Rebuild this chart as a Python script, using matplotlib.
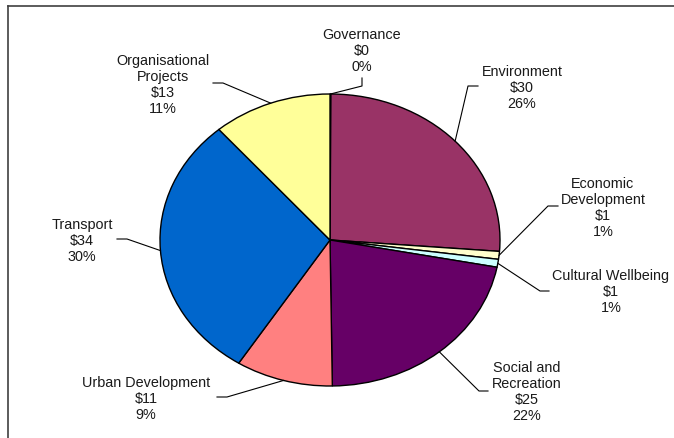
import numpy as np
import matplotlib.pyplot as plt
from matplotlib.lines import Line2D

plt.rcParams['font.family'] = ['Liberation Sans', 'DejaVu Sans']

# spending by category ($), clockwise from 12 o'clock
names = ['Governance', 'Environment', 'Economic\nDevelopment', 'Cultural Wellbeing',
         'Social and\nRecreation', 'Urban Development', 'Transport', 'Organisational\nProjects']
values = [0.1, 30.0, 1.0, 1.0, 25.0, 10.6, 34.0, 13.0]
colors = ['#9999FF', '#993366', '#FFFFCC', '#CCFFFF', '#660066', '#FF8080', '#0066CC', '#FFFF99']

W, H = 674, 439
cx, cy, rx, ry = 330, 241, 170, 146

# label block centre and leader elbow/end in pixels (from top-left)
label_pos = [(362, 51), (522, 88), (603, 208), (611, 292), (527, 392), (146, 399), (82, 241), (163, 85)]
elbows = [[(362, 87), (362, 79)], [(468, 87), (478, 87)], [(548, 207), (558, 207)],
          [(540, 292), (549, 292)], [(479, 392), (488, 392)], [(227, 398), (217, 398)],
          [(127, 240), (117, 240)], [(223, 84), (213, 84)]]


def to_data(px, py):
    return (px - cx) / rx, (cy - py) / ry


fig = plt.figure(figsize=(W / 100, H / 100), dpi=100)
ax = fig.add_axes([(cx - rx) / W, (H - cy - ry) / H, 2 * rx / W, 2 * ry / H])

wedges, _ = ax.pie(values, colors=colors, startangle=90, counterclock=False, radius=1,
                   wedgeprops=dict(edgecolor='black', linewidth=1.0))
ax.set_xlim(-1, 1)
ax.set_ylim(-1, 1)
ax.set_aspect('auto')
ax.axis('off')

total = sum(values)
for w, name, v, pos, elb in zip(wedges, names, values, label_pos, elbows):
    mid = np.deg2rad((w.theta1 + w.theta2) / 2)
    pts = [(np.cos(mid), np.sin(mid))] + [to_data(*p) for p in elb]
    xs, ys = zip(*pts)
    ax.plot(xs, ys, color='black', lw=0.8, clip_on=False)
    tx, ty = to_data(*pos)
    ax.text(tx, ty, f'{name}\n${v:.0f}\n{100 * v / total:.0f}%', ha='center', va='center',
            multialignment='center', fontsize=10.4, color='#1a1a1a', linespacing=1.18)

# chart area border
fig.add_artist(Line2D([8 / W, 1], [1 - 7 / H, 1 - 7 / H], color='#404040', lw=1.2))
fig.add_artist(Line2D([8 / W, 8 / W], [0, 1 - 7 / H], color='#404040', lw=1.2))

fig.savefig('out.png', dpi=100)
